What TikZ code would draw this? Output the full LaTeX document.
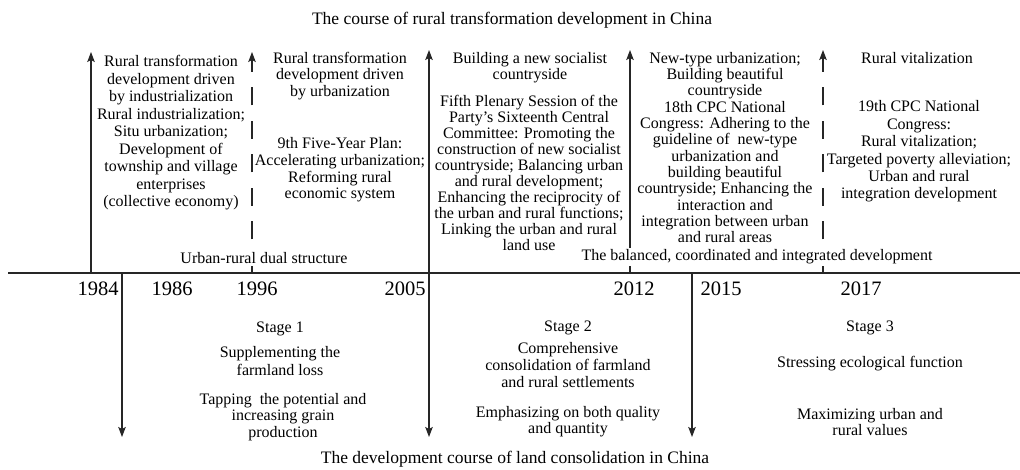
\documentclass[tikz,border=0pt]{standalone}
\usepackage{fontspec}
\setmainfont{Liberation Serif}
\usetikzlibrary{arrows.meta}
\begin{document}
\begin{tikzpicture}[x=1pt,y=-1pt,
  tl/.style={line width=1.1pt, draw=black!85},
  tip/.style={-{Stealth[length=10pt,width=7.5pt,inset=2pt]}},
  dline/.style={dash pattern=on 18pt off 15.5pt},
  txt/.style={inner sep=0pt, align=center, font=\fontsize{16}{17}\selectfont},
  year/.style={inner sep=0pt, font=\fontsize{20.5}{22}\selectfont},
  ttl/.style={inner sep=0pt, font=\fontsize{17.5}{20}\selectfont},
  band/.style={txt, fill=white, inner sep=2pt}]
\useasboundingbox (0,0) rectangle (1020,470);
% axis
\coordinate (axL) at (8,273);
\coordinate (axR) at (1020,273);
\draw[tl] (axL) -- (axR);
% upward lines
\coordinate (b84) at (91,273);  \coordinate (t84) at (91,52);
\coordinate (b96) at (252,273); \coordinate (t96) at (252,52);
\coordinate (b05) at (429,273); \coordinate (t05) at (429,50);
\coordinate (b12) at (630,273); \coordinate (t12) at (630,50);
\coordinate (b17) at (823,273); \coordinate (t17) at (823,50);
\draw[tl,tip] (b84) -- (t84);
\draw[tl,tip,dline] (b96) -- (t96);
\draw[tl,tip] (b05) -- (t05);
\draw[tl,tip] (b12) -- (t12);
\draw[tl,tip,dline] (b17) -- (t17);
% downward lines
\coordinate (s86) at (122,273); \coordinate (d86) at (122,437);
\coordinate (d05) at (429,437);
\coordinate (s15) at (692,273); \coordinate (d15) at (692,437);
\draw[tl,tip] (s86) -- (d86);
\draw[tl,tip] (b05) -- (d05);
\draw[tl,tip] (s15) -- (d15);
% titles
\node[ttl] (toptitle) at (512,20) {The course of rural transformation development in China};
\node[ttl] (bottitle) at (515,459) {The development course of land consolidation in China};
% bands
\node[band] (dual) at (264,258) {Urban-rural dual structure};
\node[band] (bal) at (757,257) {The balanced, coordinated and integrated development};
% years
\node[year] (y1984) at (98,289) {1984};
\node[year] (y1986) at (172,289) {1986};
\node[year] (y1996) at (257,289) {1996};
\node[year] (y2005) at (405,289) {2005};
\node[year] (y2012) at (634,289) {2012};
\node[year] (y2015) at (721,289) {2015};
\node[year] (y2017) at (861,289) {2017};
% upper blocks
\node[txt, font=\fontsize{16}{17.5}\selectfont] (ua) at (171,133) {Rural transformation\\development driven\\by industrialization\\Rural industrialization;\\Situ urbanization;\\Development of\\township and village\\enterprises\\(collective economy)};
\node[txt, font=\fontsize{16}{16.5}\selectfont] (ub1) at (340,76) {Rural transformation\\development driven\\by urbanization};
\node[txt, font=\fontsize{16}{16.7}\selectfont] (ub2) at (340,170) {9th Five-Year Plan:\\Accelerating urbanization;\\Reforming rural\\economic system};
\node[txt, font=\fontsize{16}{16}\selectfont] (uc1) at (530,68) {Building a new socialist\\countryside};
\node[txt, font=\fontsize{16}{16}\selectfont] (uc2) at (529,173) {Fifth Plenary Session of the\\Party’s Sixteenth Central\\Committee: Promoting the\\construction of new socialist\\countryside; Balancing urban\\and rural development;\\Enhancing the reciprocity of\\the urban and rural functions;\\Linking the urban and rural\\land use};
\node[txt, font=\fontsize{16}{16.3}\selectfont] (ud) at (725,147.5) {New-type urbanization;\\Building beautiful\\countryside\\18th CPC National\\Congress: Adhering to the\\guideline of~ new-type\\urbanization and\\building beautiful\\countryside; Enhancing the\\interaction and\\integration between urban\\and rural areas};
\node[txt] (ue1) at (917,58) {Rural vitalization};
\node[txt, font=\fontsize{16}{17.4}\selectfont] (ue2) at (919,151.5) {19th CPC National\\Congress:\\Rural vitalization;\\Targeted poverty alleviation;\\Urban and rural\\integration development};
% lower blocks
\node[txt] (st1) at (280,329) {Stage 1};
\node[txt, font=\fontsize{16}{18}\selectfont] (la1) at (280,361) {Supplementing the\\farmland loss};
\node[txt, font=\fontsize{16}{16.5}\selectfont] (la2) at (283,417) {Tapping~ the potential and\\increasing grain\\production};
\node[txt] (st2) at (568,328) {Stage 2};
\node[txt] (lb1) at (568,365) {Comprehensive\\consolidation of farmland\\and rural settlements};
\node[txt, font=\fontsize{16}{16}\selectfont] (lb2) at (568,422) {Emphasizing on both quality\\and quantity};
\node[txt] (st3) at (870,328) {Stage 3};
\node[txt] (lc1) at (870,364) {Stressing ecological function};
\node[txt, font=\fontsize{16}{16}\selectfont] (lc2) at (870,422) {Maximizing urban and\\rural values};
\end{tikzpicture}
\end{document}
